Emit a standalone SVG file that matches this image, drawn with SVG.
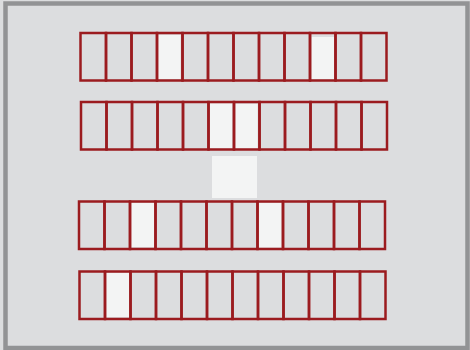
<svg xmlns="http://www.w3.org/2000/svg" width="470" height="350" viewBox="0 0 470 350">
<style>
.c{fill:none;stroke:#9b1b1f;stroke-width:2.5}
.h{fill:#f3f4f4}
</style>
<defs>
<g id="row">
<rect class="c" x="0" y="0" width="25.5" height="47.5"/>
<rect class="c" x="25.5" y="0" width="25.5" height="47.5"/>
<rect class="c" x="51" y="0" width="25.5" height="47.5"/>
<rect class="c" x="76.5" y="0" width="25.5" height="47.5"/>
<rect class="c" x="102" y="0" width="25.5" height="47.5"/>
<rect class="c" x="127.5" y="0" width="25.5" height="47.5"/>
<rect class="c" x="153" y="0" width="25.5" height="47.5"/>
<rect class="c" x="178.5" y="0" width="25.5" height="47.5"/>
<rect class="c" x="204" y="0" width="25.5" height="47.5"/>
<rect class="c" x="229.5" y="0" width="25.5" height="47.5"/>
<rect class="c" x="255" y="0" width="25.5" height="47.5"/>
<rect class="c" x="280.5" y="0" width="25.5" height="47.5"/>
</g>
</defs>
<rect x="0" y="0" width="470" height="350" fill="#dcdddf"/>
<rect x="5.5" y="3.5" width="462" height="344.5" fill="#dcdddf" stroke="#929395" stroke-width="4.5"/>
<g id="row1">
<rect class="h" x="158" y="35" width="22.5" height="44"/>
<rect class="h" x="311.5" y="37" width="22.5" height="42"/>
<use href="#row" x="80.5" y="33"/>
</g>
<g id="row2">
<rect class="h" x="209" y="103.5" width="23" height="45"/>
<rect class="h" x="234.5" y="104" width="23" height="44.5"/>
<use href="#row" x="81" y="102"/>
</g>
<g id="center">
<rect class="h" x="212" y="156" width="45" height="42" fill="#f2f3f3"/>
</g>
<g id="row3">
<rect class="h" x="131" y="203" width="23" height="44"/>
<rect class="h" x="258.5" y="203" width="23" height="44.5"/>
<use href="#row" x="79" y="201.5"/>
</g>
<g id="row4">
<rect class="h" x="106" y="273" width="23" height="44"/>
<use href="#row" x="79.5" y="271.5"/>
</g>
</svg>
